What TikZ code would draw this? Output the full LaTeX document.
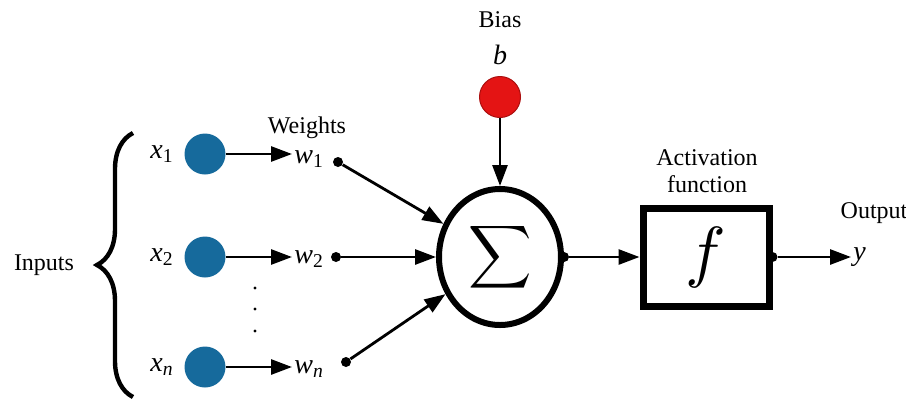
\documentclass[tikz,border=0pt]{standalone}
\usepackage{fontspec}
\setmainfont{Liberation Serif}
\usetikzlibrary{arrows.meta, positioning, shapes.geometric, decorations.pathreplacing}

\definecolor{inblue}{RGB}{22,106,156}
\definecolor{biasred}{RGB}{228,20,20}

\newcommand{\vsub}[2]{{\itshape #1}\textsubscript{#2}}

\begin{document}
\begin{tikzpicture}[x=0.5pt, y=-0.5pt,
    txt/.style={font=\fontsize{12}{13.5}\selectfont, inner sep=1pt},
    var/.style={font=\fontsize{14}{15}\selectfont, inner sep=1pt},
    inp/.style={circle, fill=inblue, minimum size=20.5pt, inner sep=0pt},
    bias/.style={circle, fill=biasred, draw=biasred!75!black, line width=0.5pt, minimum size=20.5pt, inner sep=0pt},
    wdot/.style={circle, fill=black, minimum size=5pt, inner sep=0pt},
    sumnode/.style={ellipse, draw, line width=3pt, minimum width=61pt, minimum height=68pt, inner sep=0pt},
    act/.style={draw, line width=3.5pt, minimum width=63pt, minimum height=49pt, inner sep=0pt},
    arr/.style={-{Triangle[length=10.5pt, width=7.5pt]}, line width=1.4pt}
]
\useasboundingbox (0,0) rectangle (906,403);

% inputs
\node[txt] (inputs) at (44,265) {Inputs};
\coordinate (brbot) at (133,397);
\coordinate (brtop) at (133,133);
\draw[decorate, decoration={brace, amplitude=18pt}, line width=2.2pt] (brbot) -- (brtop);

\node[inp] (c1) at (205,154) {};
\node[inp] (c2) at (205,257) {};
\node[inp] (cn) at (205,367) {};
\node[var, left=4pt of c1] (x1) {\vsub{x}{1}};
\node[var, left=4pt of c2] (x2) {\vsub{x}{2}};
\node[var, left=4pt of cn] (xn) {\vsub{x}{\itshape n}};
\foreach \yy in {288,309,331} \fill (255,\yy) circle (0.8pt);

% weights
\node[txt] (weights) at (307,128) {Weights};
\node[var, anchor=west] (w1) at (292,159) {\vsub{w}{1}};
\node[var, anchor=west] (w2) at (292,259) {\vsub{w}{2}};
\node[var, anchor=west] (wn) at (292,369) {\vsub{w}{\itshape n}};
\node[wdot] (d1) at (338,162) {};
\node[wdot] (d2) at (336,257) {};
\node[wdot] (dn) at (346,362) {};

% summation and bias
\node[sumnode] (sig) at (500,257) {\scalebox{2.2}{$\displaystyle\sum$}};
\node[wdot] (sdot) at (sig.east) {};
\node[bias] (b) at (500,97) {};
\node[var] (blab) at (500,55) {\itshape b};
\node[txt] (biaslab) at (500,20) {Bias};

% activation and output
\node[act] (fbox) at (706,257) {\scalebox{3.4}{$f$}};
\node[wdot] (fdot) at (fbox.east) {};
\node[txt, align=center] (actlab) at (707,171) {Activation\\function};
\node[txt] (outlab) at (874,213) {Output};
\node[var, anchor=west] (y) at (851,257) {\itshape y};

\draw[arr] (c1) -- (c1 -| w1.west);
\draw[arr] (c2) -- (c2 -| w2.west);
\draw[arr] (cn) -- (cn -| wn.west);
\draw[arr] (d1) -- (sig);
\draw[arr] (d2) -- (sig);
\draw[arr] (dn) -- (sig);
\draw[arr] (b) -- (sig);
\draw[arr] (sdot) -- (fbox);
\draw[arr] (fdot) -- (fdot -| y.west);
\end{tikzpicture}
\end{document}
